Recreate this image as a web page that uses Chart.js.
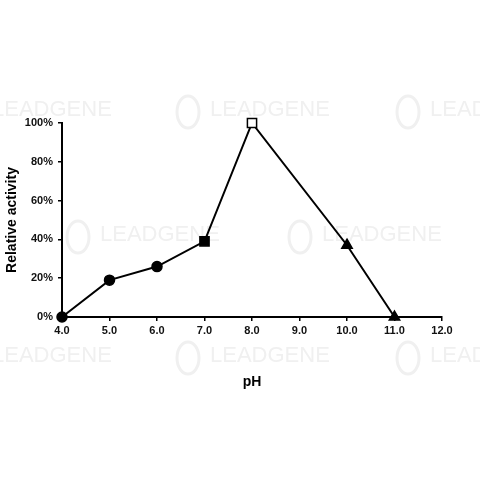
<!DOCTYPE html>
<html>
<head>
<meta charset="utf-8">
<script src="https://cdn.jsdelivr.net/npm/chart.js@4/dist/chart.umd.min.js"></script>
<style>
  html, body { margin: 0; padding: 0; background: #fff; }
  #wrap { width: 480px; height: 480px; }
</style>
</head>
<body>
<div id="wrap"><canvas id="c" width="480" height="480"></canvas></div>
<script>
// data
const phValues = [4.0, 5.0, 6.0, 7.0, 8.0, 10.0, 11.0];
const activity = [0, 19, 26, 39, 100, 37, 0];
const markerStyles = ['circle', 'circle', 'circle', 'rect', 'rect', 'triangle', 'triangle'];
const markerFills = ['#000', '#000', '#000', '#000', '#fff', '#000', '#000'];
const markerSizes = [5, 5, 5, 6.5, 6.5, 6, 6];
const watermarkText = 'LEADGENE';

// faint background watermarks
const watermarks = {
  id: 'watermarks',
  beforeDraw(chart) {
    const ctx = chart.ctx;
    ctx.save();
    ctx.fillStyle = '#f0f0f0';
    ctx.font = '22px "Liberation Sans", Arial, sans-serif';
    ctx.textBaseline = 'middle';
    const spots = [[-8, 110], [210, 110], [430, 110], [100, 235], [322, 235], [-8, 356], [210, 356], [430, 356]];
    spots.forEach(p => {
      ctx.fillText(watermarkText, p[0], p[1]);
      ctx.beginPath();
      ctx.ellipse(p[0] - 22, p[1] + 2, 11, 16, 0, 0, Math.PI * 2);
      ctx.strokeStyle = '#f0f0f0';
      ctx.lineWidth = 3;
      ctx.stroke();
    });
    ctx.restore();
  }
};

const tickFont = { family: '"Liberation Sans", Arial, sans-serif', size: 11, weight: 'bold' };
const titleFont = { family: '"Liberation Sans", Arial, sans-serif', size: 14, weight: 'bold' };

new Chart(document.getElementById('c').getContext('2d'), {
  type: 'line',
  data: {
    datasets: [{
      data: phValues.map((x, i) => ({ x: x, y: activity[i] })),
      borderColor: '#000',
      borderWidth: 2,
      tension: 0,
      pointStyle: markerStyles,
      pointBackgroundColor: markerFills,
      pointBorderColor: '#000',
      pointBorderWidth: 1.5,
      pointRadius: markerSizes,
      clip: false
    }]
  },
  options: {
    responsive: false,
    animation: false,
    layout: { padding: { top: 123, right: 38, bottom: 83, left: 4 } },
    plugins: { legend: { display: false }, tooltip: { enabled: false } },
    scales: {
      x: {
        type: 'linear',
        min: 4,
        max: 12,
        afterFit: s => { s.height = 80; },
        border: { display: true, color: '#000', width: 2 },
        grid: { drawOnChartArea: false, drawTicks: true, tickLength: 4, color: '#000', lineWidth: 1.5 },
        ticks: { stepSize: 1, color: '#111', font: tickFont, padding: 3, callback: v => v.toFixed(1), maxRotation: 0 },
        title: { display: true, text: 'pH', color: '#000', font: titleFont, padding: { top: 4, bottom: 6 } }
      },
      y: {
        min: 0,
        max: 100,
        afterFit: s => { s.width = 58; },
        border: { display: true, color: '#000', width: 2 },
        grid: { drawOnChartArea: false, drawTicks: true, tickLength: 4, color: '#000', lineWidth: 1.5 },
        ticks: { stepSize: 20, color: '#111', font: tickFont, padding: 5, callback: v => v + '%' },
        title: { display: true, text: 'Relative activity', color: '#000', font: titleFont, padding: 0 }
      }
    }
  },
  plugins: [watermarks]
});
</script>
</body>
</html>
